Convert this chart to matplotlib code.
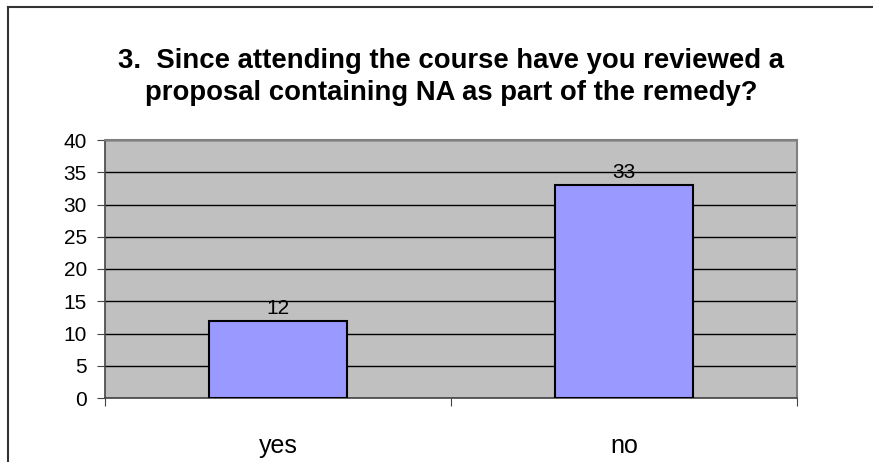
import matplotlib.pyplot as plt

categories = ['yes', 'no']
counts = [12, 33]
y_ticks = [0, 5, 10, 15, 20, 25, 30, 35, 40]

plt.rcParams['font.family'] = ['Liberation Sans', 'DejaVu Sans']

W, H = 873, 462
fig = plt.figure(figsize=(W / 100, H / 100), dpi=100)

# outer chart border (only top and left visible in the crop)
fig.add_artist(plt.Line2D([8 / W, 8 / W], [0, 1 - 7 / H], color='#333333', lw=1.5))
fig.add_artist(plt.Line2D([8 / W, 1], [1 - 7 / H, 1 - 7 / H], color='#333333', lw=1.5))

# plot area in pixels: x 105..797, y 140..398
ax = fig.add_axes([105 / W, 1 - 398 / H, (797 - 105) / W, (398 - 140) / H])
ax.set_facecolor('#C0C0C0')

x = range(len(categories))
ax.bar(x, counts, width=0.4, color='#9999FF', edgecolor='black', linewidth=1.5, zorder=3)
for xi, v in zip(x, counts):
    ax.annotate(str(v), (xi, v), xytext=(0, 2), textcoords='offset points',
                ha='center', va='bottom', fontsize=15, zorder=4)

ax.set_xlim(-0.5, len(categories) - 0.5)
ax.set_ylim(0, 40)
ax.set_yticks(y_ticks)
ax.yaxis.grid(True, color='black', lw=1)
ax.set_axisbelow(True)

ax.set_xticks([-0.5, 0.5, 1.5])
ax.set_xticklabels([])
ax.set_xticks(list(x), minor=True)
ax.set_xticklabels(categories, minor=True, fontsize=18)
ax.tick_params(axis='x', which='minor', length=0, pad=26)
ax.tick_params(axis='x', which='major', length=6, direction='out', color='#444444')
ax.tick_params(axis='y', length=6, direction='out', labelsize=15, color='#444444', pad=7)

for s in ['top', 'right']:
    ax.spines[s].set_color('#808080')
    ax.spines[s].set_linewidth(1.5)
ax.spines['left'].set_color('#444444')
ax.spines['bottom'].set_color('#444444')
ax.spines['left'].set_linewidth(1.2)
ax.spines['bottom'].set_linewidth(1.2)

fig.text(451 / W, 1 - 77 / H,
         '3.  Since attending the course have you reviewed a\nproposal containing NA as part of the remedy?',
         ha='center', va='center', fontsize=19.8, fontweight='bold', linespacing=1.25)

fig.savefig('out.png', dpi=100)
